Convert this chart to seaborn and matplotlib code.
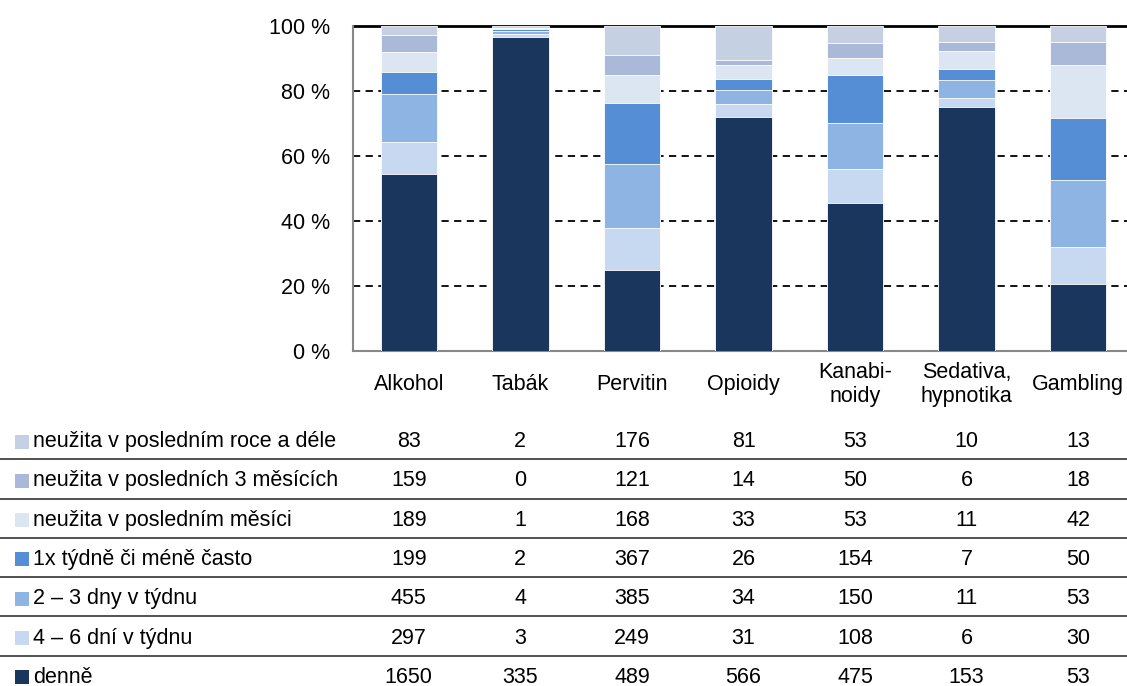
import numpy as np
import pandas as pd
import seaborn as sns
import matplotlib.pyplot as plt
from matplotlib.transforms import blended_transform_factory

sns.set_style("white")
plt.rcParams['font.family'] = ['Liberation Sans Narrow', 'Liberation Sans', 'DejaVu Sans']
plt.rcParams['text.color'] = 'black'
plt.rcParams['xtick.color'] = 'black'
plt.rcParams['ytick.color'] = 'black'

categories = ["Alkohol", "Tabák", "Pervitin", "Opioidy", "Kanabi-\nnoidy", "Sedativa,\nhypnotika", "Gambling"]

# stack order bottom -> top
series_names = ["denně", "4 – 6 dní v týdnu", "2 – 3 dny v týdnu", "1x týdně či méně často",
                "neužita v posledním měsíci", "neužita v posledních 3 měsících",
                "neužita v posledním roce a déle"]
denne = [1650, 335, 489, 566, 475, 153, 53]
dni_4_6 = [297, 3, 249, 31, 108, 6, 30]
dny_2_3 = [455, 4, 385, 34, 150, 11, 53]
tydne_1x = [199, 2, 367, 26, 154, 7, 50]
mesic = [189, 1, 168, 33, 53, 11, 42]
mesice_3 = [159, 0, 121, 14, 50, 6, 18]
rok = [83, 2, 176, 81, 53, 10, 13]

colors = ["#1b365d", "#c6d9f1", "#8eb4e3", "#558ed5", "#dce6f2", "#aab9d7", "#c5d0e2"]

values = np.array([denne, dni_4_6, dny_2_3, tydne_1x, mesic, mesice_3, rok], dtype=float)
shares = values / values.sum(axis=0)
cum = np.cumsum(shares, axis=0)

fig = plt.figure(figsize=(11.27, 6.86), dpi=100)
L, B, W, H = 353 / 1127, 1 - 351 / 686, 781 / 1127, 325 / 686
ax = fig.add_axes([L, B, W, H])

# draw cumulative layers from top to bottom so each overlaps the next
for i in range(len(series_names) - 1, -1, -1):
    df = pd.DataFrame({"cat": categories, "val": cum[i]})
    sns.barplot(data=df, x="cat", y="val", color=colors[i], width=0.505,
                edgecolor="white", linewidth=0.6, saturation=1, ax=ax, zorder=3)

ax.set_xlim(-0.5, 6.5)
ax.set_ylim(0, 1)
ax.set_yticks([0, 0.2, 0.4, 0.6, 0.8, 1.0])
ax.set_yticklabels(["0 %", "20 %", "40 %", "60 %", "80 %", "100 %"], fontsize=15.5)
ax.tick_params(axis="y", length=0, pad=16.5)
ax.tick_params(axis="x", length=0, pad=24, labelsize=15.5)
for lab in ax.get_xticklabels():
    lab.set_verticalalignment("center")
ax.set_xlabel("")
ax.set_ylabel("")
for y in [0.2, 0.4, 0.6, 0.8]:
    ax.axhline(y, color="black", linestyle=(0, (4, 3)), linewidth=1.3, zorder=1)
ax.axhline(1.0, color="black", linewidth=2, zorder=1, clip_on=False)
for s in ["top", "right"]:
    ax.spines[s].set_visible(False)
ax.spines["left"].set_color("#888888")
ax.spines["bottom"].set_color("#888888")
ax.spines["left"].set_linewidth(1.5)
ax.spines["bottom"].set_linewidth(1.5)

# data table below the chart
unit = W / 7
tax = fig.add_axes([0, -0.0131, 1, 0.4009])
tax.set_xlim(-0.5 - L / unit, -0.5 + (1 - L) / unit)
tax.set_ylim(7, 0)
tax.axis("off")
trans = blended_transform_factory(fig.transFigure, tax.transData)

for r, i in enumerate(range(len(series_names) - 1, -1, -1)):
    yc = r + 0.55
    tax.scatter([22 / 1127], [yc], marker="s", s=95, color=colors[i], transform=trans,
                clip_on=False, linewidths=0)
    tax.text(33 / 1127, yc, series_names[i], transform=trans, va="center", ha="left", fontsize=15.5)
    for j in range(len(categories)):
        tax.text(j, yc, str(int(values[i, j])), va="center", ha="center", fontsize=15.5)
    if r > 0:
        tax.axhline(r, color="#333333", linewidth=1.2)

fig.savefig("out.png", dpi=100)
